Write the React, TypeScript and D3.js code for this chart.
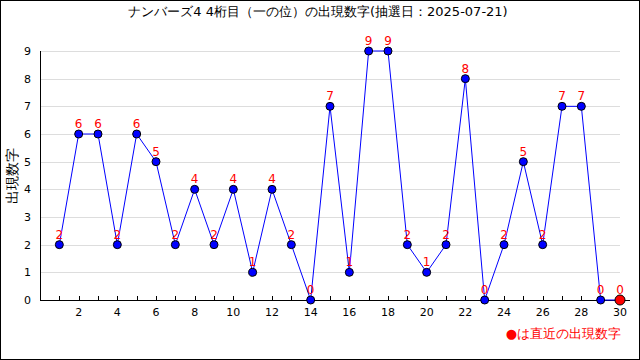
import React, { useRef, useEffect } from "react";
import * as d3 from "d3";

const draws = [
  1, 2, 3, 4, 5, 6, 7, 8, 9, 10, 11, 12, 13, 14, 15, 16, 17, 18, 19, 20, 21,
  22, 23, 24, 25, 26, 27, 28, 29, 30,
];
const digits = [
  2, 6, 6, 2, 6, 5, 2, 4, 2, 4, 1, 4, 2, 0, 7, 1, 9, 9, 2, 1, 2, 8, 0, 2, 5, 2,
  7, 7, 0, 0,
];
const yTicks = [0, 1, 2, 3, 4, 5, 6, 7, 8, 9];
const xLabels = [2, 4, 6, 8, 10, 12, 14, 16, 18, 20, 22, 24, 26, 28, 30];

const App: React.FC = () => {
  const ref = useRef<SVGSVGElement | null>(null);

  useEffect(() => {
    document.body.style.margin = "0";
    if (!ref.current) return;
    const svg = d3.select(ref.current);
    svg.selectAll("*").remove();

    const width = 640;
    const height = 360;
    const font = "'DejaVu Sans', sans-serif";

    const x = d3.scaleLinear().domain([0, 30]).range([40, 620]);
    const y = d3.scaleLinear().domain([0, 9]).range([300, 51]);

    svg
      .append("rect")
      .attr("x", 0.5)
      .attr("y", 0.5)
      .attr("width", width - 1)
      .attr("height", height - 1)
      .attr("fill", "#fff")
      .attr("stroke", "#000");

    svg
      .append("text")
      .attr("x", 318)
      .attr("y", 16)
      .attr("text-anchor", "middle")
      .attr("font-family", font)
      .attr("font-size", 13)
      .text("ナンバーズ4 4桁目（一の位）の出現数字(抽選日：2025-07-21)");

    // grid
    svg
      .append("g")
      .selectAll("line")
      .data(yTicks.filter((d) => d > 0))
      .enter()
      .append("line")
      .attr("x1", 40)
      .attr("x2", 620)
      .attr("y1", (d) => Math.round(y(d)) + 0.5)
      .attr("y2", (d) => Math.round(y(d)) + 0.5)
      .attr("stroke", "#dddddd");

    // y labels
    svg
      .append("g")
      .selectAll("text")
      .data(yTicks)
      .enter()
      .append("text")
      .attr("x", 31)
      .attr("y", (d) => y(d) + 4)
      .attr("text-anchor", "end")
      .attr("font-family", font)
      .attr("font-size", 11)
      .text((d) => d);

    svg
      .append("text")
      .attr("transform", "translate(17,176) rotate(-90)")
      .attr("text-anchor", "middle")
      .attr("font-family", font)
      .attr("font-size", 14)
      .text("出現数字");

    // axes lines
    svg
      .append("line")
      .attr("x1", 40.5)
      .attr("x2", 40.5)
      .attr("y1", 51)
      .attr("y2", 300)
      .attr("stroke", "#000");
    svg
      .append("line")
      .attr("x1", 40)
      .attr("x2", 630)
      .attr("y1", 300.5)
      .attr("y2", 300.5)
      .attr("stroke", "#000");

    svg
      .append("g")
      .selectAll("line")
      .data(draws)
      .enter()
      .append("line")
      .attr("x1", (d) => Math.round(x(d)) + 0.5)
      .attr("x2", (d) => Math.round(x(d)) + 0.5)
      .attr("y1", 296)
      .attr("y2", 300)
      .attr("stroke", "#000");

    svg
      .append("g")
      .selectAll("text")
      .data(xLabels)
      .enter()
      .append("text")
      .attr("x", (d) => x(d))
      .attr("y", 316)
      .attr("text-anchor", "middle")
      .attr("font-family", font)
      .attr("font-size", 11)
      .text((d) => d);

    const pts = draws.map((d, i) => ({ n: d, v: digits[i] }));

    const line = d3
      .line<{ n: number; v: number }>()
      .x((d) => x(d.n))
      .y((d) => y(d.v));

    svg
      .append("path")
      .datum(pts)
      .attr("d", line)
      .attr("fill", "none")
      .attr("stroke", "#0000ff")
      .attr("stroke-width", 1);

    svg
      .append("g")
      .selectAll("text")
      .data(pts)
      .enter()
      .append("text")
      .attr("x", (d) => x(d.n))
      .attr("y", (d) => y(d.v) - 6)
      .attr("text-anchor", "middle")
      .attr("font-family", font)
      .attr("font-size", 12)
      .attr("fill", "#ff0000")
      .text((d) => d.v);

    svg
      .append("g")
      .selectAll("circle")
      .data(pts)
      .enter()
      .append("circle")
      .attr("cx", (d) => x(d.n))
      .attr("cy", (d) => y(d.v))
      .attr("r", (d, i) => (i === pts.length - 1 ? 5 : 4))
      .attr("fill", (d, i) => (i === pts.length - 1 ? "#ff0000" : "#0000ff"))
      .attr("stroke", "#000")
      .attr("stroke-width", 1);

    svg
      .append("text")
      .attr("x", 621)
      .attr("y", 338)
      .attr("text-anchor", "end")
      .attr("font-family", font)
      .attr("font-size", 13)
      .attr("fill", "#ff0000")
      .text("●は直近の出現数字");
  }, []);

  return <svg ref={ref} width={640} height={360} style={{ display: "block" }} />;
};

export default App;
